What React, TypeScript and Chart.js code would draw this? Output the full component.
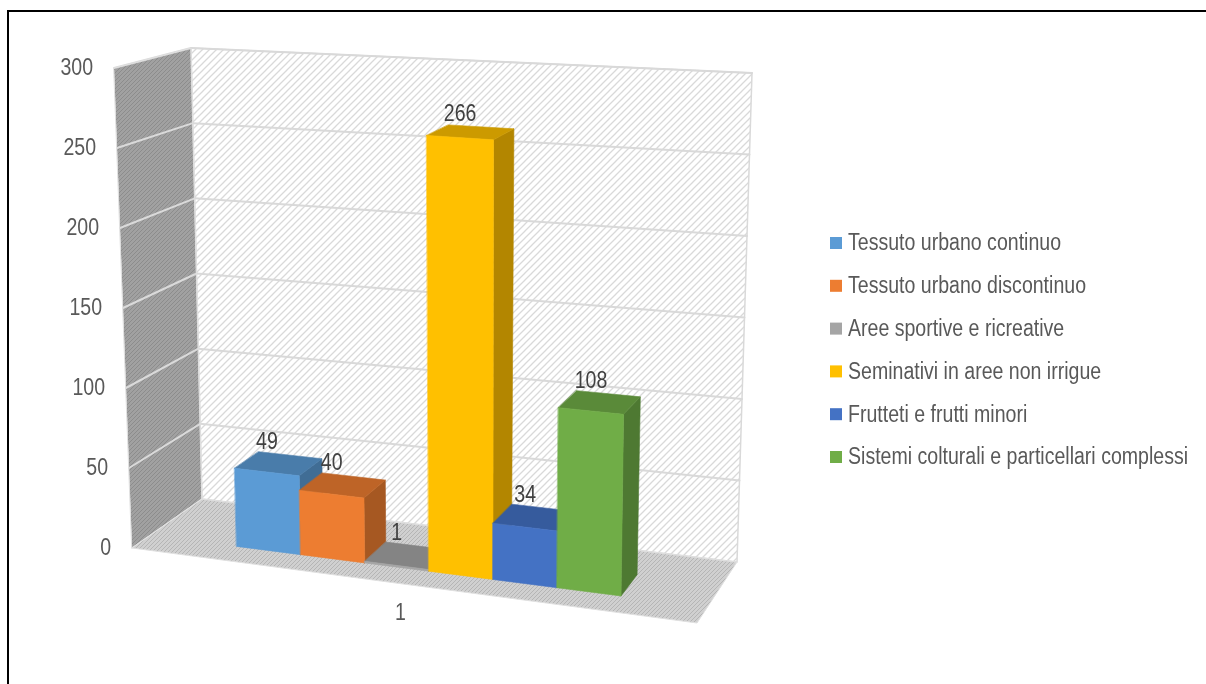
import React, { useEffect, useRef } from 'react';
import { Chart, registerables } from 'chart.js';

Chart.register(...registerables);

// ---------- data ----------
const categories = ['1'];
const seriesNames = [
  'Tessuto urbano continuo',
  'Tessuto urbano discontinuo',
  'Aree sportive e ricreative',
  'Seminativi in aree non irrigue',
  'Frutteti e frutti minori',
  'Sistemi colturali e particellari complessi',
];
const tessutoContinuo = [49];
const tessutoDiscontinuo = [40];
const areeSportive = [1];
const seminativi = [266];
const frutteti = [34];
const sistemiColturali = [108];
const seriesValues = [tessutoContinuo, tessutoDiscontinuo, areeSportive, seminativi, frutteti, sistemiColturali];
const seriesColors = ['#5B9BD5', '#ED7D31', '#A5A5A5', '#FFC000', '#4472C4', '#70AD47'];
const yMin = 0;
const yMax = 300;
const yStep = 50;

// ---------- styling / projection frame ----------
const FONT = "'Liberation Sans', Arial, sans-serif";
const FONT_SIZE = 23;
const TEXT_SCALE_X = 0.85; // narrow (condensed) look of the original typeface
const TEXT_COLOR = '#595959';
const LABEL_COLOR = '#404040';
// corners of the 3D box [u][v][w]: u = category axis, v = value axis, w = depth (0 front, 1 back)
const FRAME = {
  p000: [132, 548], p100: [697, 623], p010: [114, 68], p110: [707, 105],
  p001: [202, 499], p101: [737, 562], p011: [191, 48], p111: [752, 73],
};
const BAR_W0 = 0.26;
const BAR_W1 = 0.62;
const LEGEND_X = 830;
const LEGEND_Y0 = 243;
const LEGEND_STEP = 42.8;
const LEGEND_BOX = 12;

const lerp = (a: number, b: number, t: number) => a + (b - a) * t;
const lerp2 = (a: number[], b: number[], t: number) => [lerp(a[0], b[0], t), lerp(a[1], b[1], t)];

function proj(u: number, v: number, w: number): number[] {
  const f = FRAME;
  const bottom = lerp2(lerp2(f.p000, f.p100, u), lerp2(f.p001, f.p101, u), w);
  const top = lerp2(lerp2(f.p010, f.p110, u), lerp2(f.p011, f.p111, u), w);
  return lerp2(bottom, top, v);
}

function shade(hex: string, f: number) {
  const n = parseInt(hex.slice(1), 16);
  const r = Math.round(((n >> 16) & 255) * f);
  const g = Math.round(((n >> 8) & 255) * f);
  const b = Math.round((n & 255) * f);
  return `rgb(${r},${g},${b})`;
}

function makeHatch(ctx: CanvasRenderingContext2D, size: number, bg: string, fg: string, lw: number) {
  const c = document.createElement('canvas');
  c.width = size;
  c.height = size;
  const g = c.getContext('2d')!;
  g.fillStyle = bg;
  g.fillRect(0, 0, size, size);
  g.strokeStyle = fg;
  g.lineWidth = lw;
  g.beginPath();
  g.moveTo(-1, size + 1);
  g.lineTo(size + 1, -1);
  g.moveTo(-1, 1);
  g.lineTo(1, -1);
  g.moveTo(size - 1, size + 1);
  g.lineTo(size + 1, size - 1);
  g.stroke();
  return ctx.createPattern(c, 'repeat')!;
}

function poly(ctx: CanvasRenderingContext2D, pts: number[][], fill: any, stroke?: string, lw = 1) {
  ctx.beginPath();
  ctx.moveTo(pts[0][0], pts[0][1]);
  for (let i = 1; i < pts.length; i++) ctx.lineTo(pts[i][0], pts[i][1]);
  ctx.closePath();
  if (fill) {
    ctx.fillStyle = fill;
    ctx.fill();
  }
  if (stroke) {
    ctx.strokeStyle = stroke;
    ctx.lineWidth = lw;
    ctx.stroke();
  }
}

function text(ctx: CanvasRenderingContext2D, s: string, x: number, y: number, align: CanvasTextAlign, baseline: CanvasTextBaseline, color: string) {
  ctx.save();
  ctx.translate(x, y);
  ctx.scale(TEXT_SCALE_X, 1);
  ctx.font = `${FONT_SIZE}px ${FONT}`;
  ctx.fillStyle = color;
  ctx.textAlign = align;
  ctx.textBaseline = baseline;
  ctx.fillText(s, 0, 0);
  ctx.restore();
}

const scene3D = {
  id: 'scene3D',
  beforeDatasetsDraw(chart: any) {
    const ctx: CanvasRenderingContext2D = chart.ctx;
    const ca = chart.chartArea;
    const ys = chart.scales.y;
    const base = ys.getPixelForValue(yMin);
    const topPx = ys.getPixelForValue(yMax);
    const vOf = (py: number) => (base - py) / (base - topPx);

    ctx.save();
    // walls and floor
    const leftWall = makeHatch(ctx, 4, '#a1a1a1', '#8c8c8c', 1);
    const backWall = makeHatch(ctx, 7, '#ffffff', '#d9d9d9', 1.3);
    const floor = makeHatch(ctx, 4, '#d0d0d0', '#b5b5b5', 1);
    poly(ctx, [proj(0, 0, 0), proj(0, 0, 1), proj(0, 1, 1), proj(0, 1, 0)], leftWall);
    poly(ctx, [proj(0, 0, 1), proj(1, 0, 1), proj(1, 1, 1), proj(0, 1, 1)], backWall);
    poly(ctx, [proj(0, 0, 0), proj(1, 0, 0), proj(1, 0, 1), proj(0, 0, 1)], floor);

    // gridlines from the y scale ticks
    ctx.lineCap = 'round';
    for (const t of ys.ticks) {
      const v = vOf(ys.getPixelForValue(t.value));
      if (v <= 0.001) continue;
      const a = proj(0, v, 0), b = proj(0, v, 1), c = proj(1, v, 1);
      ctx.strokeStyle = '#dadada';
      ctx.lineWidth = 2;
      ctx.beginPath();
      ctx.moveTo(a[0], a[1]);
      ctx.lineTo(b[0], b[1]);
      ctx.stroke();
      ctx.strokeStyle = '#d9d9d9';
      ctx.beginPath();
      ctx.moveTo(b[0], b[1]);
      ctx.lineTo(c[0], c[1]);
      ctx.stroke();
    }
    // frame edges
    poly(ctx, [proj(0, 0, 1), proj(1, 0, 1), proj(1, 1, 1), proj(0, 1, 1)], null, '#d9d9d9', 1.5);
    poly(ctx, [proj(0, 0, 0), proj(1, 0, 0), proj(1, 0, 1), proj(0, 0, 1)], null, '#e0e0e0', 1);
    poly(ctx, [proj(0, 0, 0), proj(0, 0, 1), proj(0, 1, 1), proj(0, 1, 0)], null, '#e0e0e0', 1);

    // bars, from the bar elements laid out by the scales
    const labels: { text: string; x: number; y: number }[] = [];
    chart.data.datasets.forEach((ds: any, i: number) => {
      const meta = chart.getDatasetMeta(i);
      meta.data.forEach((el: any, j: number) => {
        const p = el.getProps(['x', 'y', 'base', 'width'], true);
        const u0 = (p.x - p.width / 2 - ca.left) / ca.width;
        const u1 = (p.x + p.width / 2 - ca.left) / ca.width;
        const v0 = vOf(p.base);
        const v1 = vOf(p.y);
        const col = ds.backgroundColor as string;
        const w0 = BAR_W0, w1 = BAR_W1;
        const side = [proj(u1, v0, w0), proj(u1, v0, w1), proj(u1, v1, w1), proj(u1, v1, w0)];
        const top = [proj(u0, v1, w0), proj(u1, v1, w0), proj(u1, v1, w1), proj(u0, v1, w1)];
        const front = [proj(u0, v0, w0), proj(u1, v0, w0), proj(u1, v1, w0), proj(u0, v1, w0)];
        poly(ctx, side, shade(col, 0.7), shade(col, 0.7), 0.6);
        poly(ctx, top, shade(col, 0.8), shade(col, 0.8), 0.6);
        poly(ctx, front, col, col, 0.6);
        const uc = (u0 + u1) / 2;
        labels.push({
          text: String(ds.data[j]),
          x: proj(uc, v1, w0)[0],
          y: proj(uc, v1, w1)[1] - 1,
        });
      });
    });

    // data labels
    for (const l of labels) text(ctx, l.text, l.x, l.y, 'center', 'bottom', LABEL_COLOR);

    // value axis labels along the front-left edge
    for (const t of ys.ticks) {
      const v = vOf(ys.getPixelForValue(t.value));
      const pt = proj(0, v, 0);
      text(ctx, String(t.label), pt[0] - 21, pt[1] + 1, 'right', 'middle', TEXT_COLOR);
    }

    // category label
    chart.data.labels.forEach((lab: string, k: number) => {
      const n = chart.data.labels.length;
      const pt = proj((k + 0.5) / n, 0, 0);
      text(ctx, lab, pt[0] - 14, pt[1] + 28, 'center', 'middle', TEXT_COLOR);
    });

    // legend (series names and colours from the datasets)
    chart.data.datasets.forEach((ds: any, i: number) => {
      const y = LEGEND_Y0 + i * LEGEND_STEP;
      ctx.fillStyle = ds.backgroundColor;
      ctx.fillRect(LEGEND_X, y - LEGEND_BOX / 2, LEGEND_BOX, LEGEND_BOX);
      text(ctx, ds.label, LEGEND_X + 18, y + 1, 'left', 'middle', TEXT_COLOR);
    });
    ctx.restore();
    return false; // the 3D scene replaces the flat bars
  },
};

export default function App() {
  const ref = useRef<HTMLCanvasElement | null>(null);
  useEffect(() => {
    if (!ref.current) return;
    const chart = new Chart(ref.current, {
      type: 'bar',
      data: {
        labels: categories,
        datasets: seriesNames.map((name, i) => ({
          label: name,
          data: seriesValues[i],
          backgroundColor: seriesColors[i],
          borderWidth: 0,
        })),
      },
      options: {
        animation: false,
        responsive: true,
        maintainAspectRatio: false,
        datasets: { bar: { categoryPercentage: 0.69, barPercentage: 1 } },
        scales: {
          x: { display: false },
          y: { display: false, min: yMin, max: yMax, ticks: { stepSize: yStep } },
        },
        plugins: {
          legend: { display: false },
          tooltip: { enabled: false },
        },
      },
      plugins: [scene3D],
    });
    return () => chart.destroy();
  }, []);

  return (
    <>
      <div
        style={{
          position: 'fixed',
          left: 7,
          top: 10,
          width: 1400,
          height: 900,
          border: '2px solid #000',
          background: '#fff',
        }}
      />
      <div style={{ position: 'fixed', left: 0, top: 0, width: 1206, height: 684 }}>
        <canvas ref={ref} />
      </div>
    </>
  );
}
